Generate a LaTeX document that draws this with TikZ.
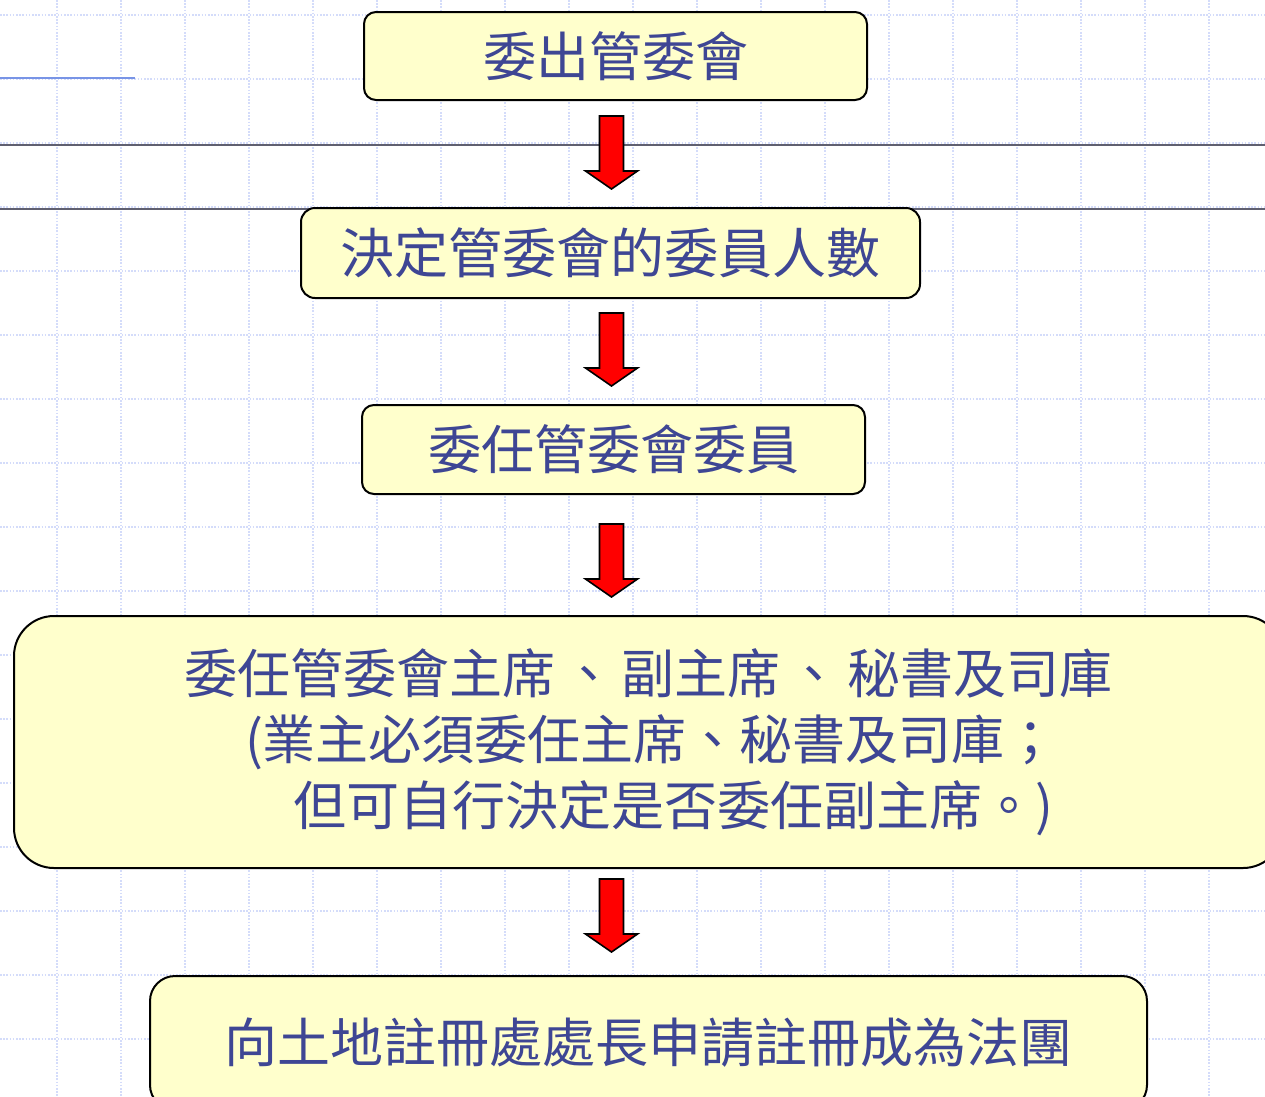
\documentclass[tikz,border=0pt]{standalone}
\usepackage{fontspec}
\newfontfamily\cjk{Noto Sans CJK TC}
\usetikzlibrary{calc}
\definecolor{boxfill}{RGB}{255,255,204}
\definecolor{txtblue}{RGB}{62,70,148}
\definecolor{gridc}{RGB}{212,220,250}
\definecolor{rulegray}{RGB}{96,96,112}
\definecolor{ruleblue}{RGB}{120,148,230}
\tikzset{
  flowbox/.style={draw=black, line width=2pt, fill=boxfill, text=txtblue,
    font=\cjk\fontsize{53}{66}\selectfont, inner sep=0pt, rounded corners=12pt, align=center},
  flowarrow/.style={draw=black, line width=1.6pt, fill=red, line join=miter},
  gridline/.style={gridc, line width=1.6pt, dash pattern=on 1.6pt off 1.6pt},
  graylinestyle/.style={rulegray, line width=1.2pt},
  bluelinestyle/.style={ruleblue, line width=2.4pt},
}
\newcommand\flowarrowdraw[3]{%
  \path ($(#1.south)!0.5!(#2.north)$) coordinate (mid);
  \coordinate (atop) at ($(axis |- mid)+(0,#3)$);
  \draw[flowarrow] (atop) ++(-12,0) -- ++(24,0) -- ++(0,55) -- ++(14,0) -- ++(-26,18) -- ++(-26,-18) -- ++(14,0) -- cycle;
}
\begin{document}
\begin{tikzpicture}[x=1pt,y=-1pt]
\path[use as bounding box, clip] (0,0) rectangle (1265,1096);
\fill[white] (0,0) rectangle (1265,1096);
% grid
\foreach \k in {0,...,19} \draw[gridline] ({57+64*\k},0) -- ({57+64*\k},1096);
\foreach \k in {0,...,17} \draw[gridline] (0,{15+64*\k}) -- (1265,{15+64*\k});
% rules
\draw[graylinestyle] (0,145) -- (1265,145);
\draw[graylinestyle] (0,209) -- (1265,209);
\draw[bluelinestyle] (0,78) -- (135,78);
% boxes
\node[flowbox, minimum width=503pt, minimum height=88pt] (b1) at (615.5,56) {委出管委會};
\node[flowbox, minimum width=619pt, minimum height=90pt, rounded corners=14pt,
      font=\cjk\fontsize{54}{66}\selectfont] (b2) at (610.5,253) {決定管委會的委員人數};
\node[flowbox, minimum width=503pt, minimum height=89pt] (b3) at (613.5,449.5) {委任管委會委員};
\node[flowbox, minimum width=1269pt, minimum height=252pt, rounded corners=40pt] (b4) at (648.5,742)
  {委任管委會主席\hspace{7pt}、\hspace{7pt}副主席\hspace{7pt}、\hspace{7pt}秘書及司庫\\\hspace*{6pt}(業主必須委任主席、秘書及司庫；\\\hspace*{50pt}但可自行決定是否委任副主席。)};
\node[flowbox, minimum width=997pt, minimum height=134pt, rounded corners=25pt] (b5) at (648.5,1043) {向土地註冊處處長申請註冊成為法團};
% arrows
\coordinate (axis) at (611.5,0);
\flowarrowdraw{b1}{b2}{-38}
\flowarrowdraw{b2}{b3}{-38.5}
\flowarrowdraw{b3}{b4}{-31}
\flowarrowdraw{b4}{b5}{-43}
\end{tikzpicture}
\end{document}
